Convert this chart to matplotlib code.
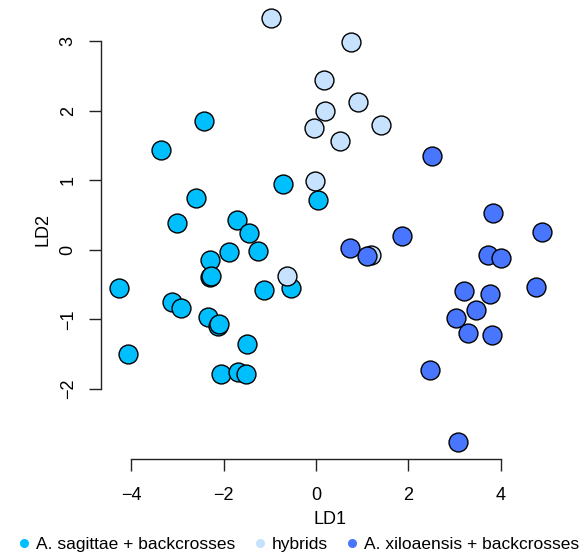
import numpy as np
import matplotlib
matplotlib.use("Agg")
import matplotlib.pyplot as plt
from matplotlib.lines import Line2D

plt.rcParams['font.family'] = ['Liberation Sans', 'DejaVu Sans']

# LDA scores per group
sag_ld1 = [-2.42, -3.35, -0.71, -2.61, -3.01, -1.72, -1.46, -1.89, -1.26, -2.29,
           -2.30, -2.27, -4.26, -1.13, -0.55, -3.13, -2.93, -2.35, -2.12, -2.10,
           -1.50, -4.08, -2.07, -1.70, -1.53, 0.04]
sag_ld2 = [1.86, 1.43, 0.94, 0.74, 0.38, 0.43, 0.24, -0.03, -0.02, -0.14,
           -0.39, -0.37, -0.55, -0.58, -0.55, -0.75, -0.84, -0.97, -1.10, -1.07,
           -1.35, -1.50, -1.79, -1.76, -1.78, 0.72]

hyb_ld1 = [-0.98, 0.75, 0.18, 0.90, 0.20, -0.05, 1.41, 0.51, -0.03, -0.63, 1.18]
hyb_ld2 = [3.34, 2.99, 2.45, 2.12, 2.00, 1.75, 1.79, 1.57, 0.99, -0.37, -0.07]

xil_ld1 = [2.50, 3.82, 4.89, 1.87, 0.74, 1.11, 3.72, 4.00, 4.77, 3.20,
           3.76, 3.46, 3.02, 3.28, 3.80, 2.46, 3.07]
xil_ld2 = [1.35, 0.53, 0.26, 0.20, 0.03, -0.09, -0.08, -0.12, -0.53, -0.59,
           -0.64, -0.87, -0.98, -1.20, -1.23, -1.73, -2.76]

groups = ['A. sagittae + backcrosses', 'hybrids', 'A. xiloaensis + backcrosses']
cols = ['#00BFFF', '#C6E2FF', '#4876FF']

W, H = 581, 554
fig = plt.figure(figsize=(W / 100, H / 100), dpi=100)
ax = fig.add_axes([101 / W, (H - 459) / H, 458 / W, 458 / H])

for xs, ys, c in zip([sag_ld1, hyb_ld1, xil_ld1], [sag_ld2, hyb_ld2, xil_ld2], cols):
    ax.scatter(xs, ys, s=185, c=c, edgecolors='black', linewidths=1.0)

ax.set_xlim(-4.66, 5.26)
ax.set_ylim(-3.01, 3.58)

for s in ['top', 'right']:
    ax.spines[s].set_visible(False)
ax.spines['left'].set_bounds(-2, 3)
ax.spines['bottom'].set_bounds(-4, 4)
for s in ['left', 'bottom']:
    ax.spines[s].set_linewidth(1.0)
    ax.spines[s].set_color('#222222')

ax.set_xticks([-4, -2, 0, 2, 4])
ax.set_yticks([-2, -1, 0, 1, 2, 3])
ax.set_xticklabels(['\u22124', '\u22122', '0', '2', '4'])
ax.set_yticklabels(['\u22122', '\u22121', '0', '1', '2', '3'], rotation=90, va='center')
ax.tick_params(length=8.5, width=1.0, color='#222222', labelsize=13)
ax.tick_params(axis='x', pad=12)
ax.tick_params(axis='y', pad=9)

ax.set_xlabel('LD1', fontsize=13, labelpad=5)
ax.set_ylabel('LD2', fontsize=13, labelpad=6)

handles = [Line2D([], [], marker='o', linestyle='none', markersize=5.5,
                  markerfacecolor=c, markeredgecolor=c) for c in cols]
fig.legend(handles, groups, loc='center', bbox_to_anchor=(0.515, 1 - 544 / H),
           ncol=3, frameon=False, fontsize=12.5, handlelength=0.6,
           handletextpad=0.4, columnspacing=1.1, borderaxespad=0)

fig.savefig('out.png', dpi=100)
